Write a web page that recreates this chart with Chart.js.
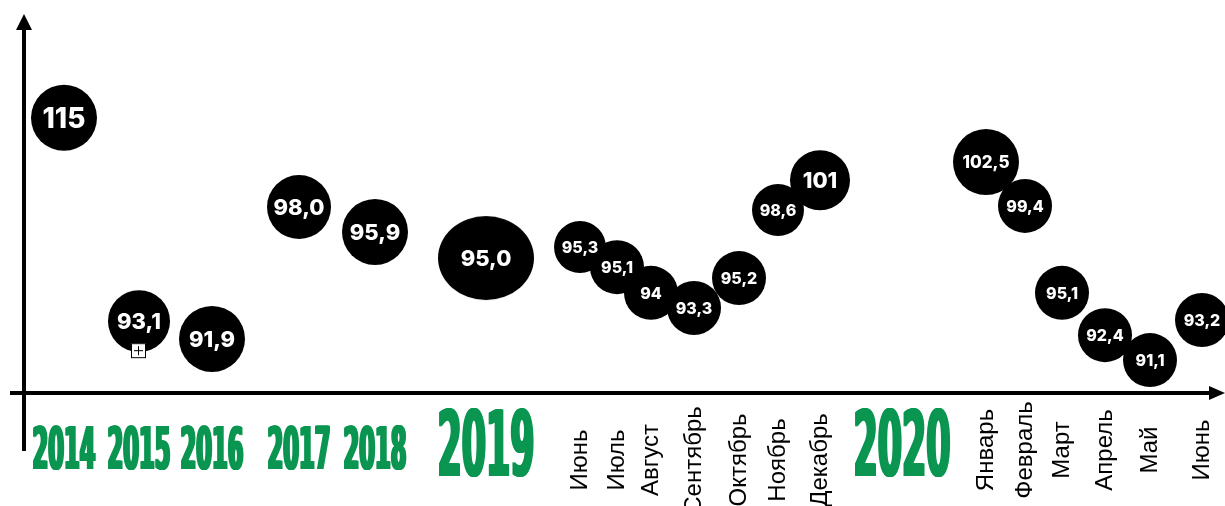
<!DOCTYPE html>
<html>
<head>
<meta charset="utf-8">
<script src="https://cdn.jsdelivr.net/npm/chart.js@4.4.0/dist/chart.umd.min.js"></script>
<style>
  html, body { margin: 0; padding: 0; background: #fff; }
  #wrap { width: 1225px; height: 506px; position: relative; }
</style>
</head>
<body>
<div id="wrap"><canvas id="chart"></canvas></div>
<script>
// --- Data ---
const categories = ['2014', '2015', '2016', '2017', '2018', '2019',
    'Июнь', 'Июль', 'Август', 'Сентябрь', 'Октябрь', 'Ноябрь', 'Декабрь',
    '2020', 'Январь', 'Февраль', 'Март', 'Апрель', 'Май', 'Июнь'];
const values = [115, 93.1, 91.9, 98.0, 95.9, 95.0,
    95.3, 95.1, 94, 93.3, 95.2, 98.6, 101,
    null, 102.5, 99.4, 95.1, 92.4, 91.1, 93.2];
const valueLabels = ['115', '93,1', '91,9', '98,0', '95,9', '95,0',
    '95,3', '95,1', '94', '93,3', '95,2', '98,6', '101',
    null, '102,5', '99,4', '95,1', '92,4', '91,1', '93,2'];
// vertical placement of each bubble as drawn in the infographic (0 = axis, 100 = top)
const levels = [72.8, 19.0, 14.3, 49.2, 42.6, 35.7,
    38.6, 33.3, 26.5, 22.5, 30.4, 48.4, 56.3,
    null, 61.1, 49.5, 26.5, 15.3, 8.7, 19.3];

// --- Layout & styles ---
const GREEN = '#0a9550';
const BIG_YEARS = ['2019', '2020'];
const slotStart = 40;
const slotGaps = [75, 73, 87, 76, 111, 94, 37, 34, 43, 45, 39, 42, 82, 84, 39, 37, 43, 45, 52];
const bubbleRadius = [33, 31, 33, 32, 33, 45, 26, 27, 27, 27, 27, 26, 30, 0, 33, 27, 27, 27, 27, 27];
const labelSizes = [28, 22, 22, 22, 22, 22, 16, 16, 16, 16, 16, 16, 22, 0, 17, 16, 16, 16, 16, 16];
const MARKER_INDEX = 1; // small "+" box under 2015

const xPos = [slotStart];
slotGaps.forEach(g => xPos.push(xPos[xPos.length - 1] + g));

// ellipse used for the big 2019 bubble
const ellipseImg = document.createElement('canvas');
ellipseImg.width = 98;
ellipseImg.height = 86;
(() => {
    const c = ellipseImg.getContext('2d');
    c.fillStyle = '#000';
    c.beginPath();
    c.ellipse(49, 43, 48, 42, 0, 0, Math.PI * 2);
    c.fill();
})();

const points = categories.map((c, i) => ({ x: xPos[i], y: levels[i] }));

// --- Plugins ---
const axesPlugin = {
    id: 'arrowAxes',
    beforeDatasetsDraw(chart) {
        const { ctx, chartArea } = chart;
        const left = chartArea.left, bottom = chartArea.bottom;
        ctx.save();
        ctx.strokeStyle = '#000';
        ctx.fillStyle = '#000';
        ctx.lineWidth = 4;
        // y axis
        ctx.beginPath();
        ctx.moveTo(left, 27);
        ctx.lineTo(left, 451);
        ctx.stroke();
        ctx.beginPath();
        ctx.moveTo(left, 14);
        ctx.lineTo(left - 8, 30);
        ctx.lineTo(left + 8, 30);
        ctx.closePath();
        ctx.fill();
        // x axis
        ctx.beginPath();
        ctx.moveTo(10, bottom);
        ctx.lineTo(1212, bottom);
        ctx.stroke();
        ctx.beginPath();
        ctx.moveTo(1225, bottom);
        ctx.lineTo(1209, bottom - 7);
        ctx.lineTo(1209, bottom + 7);
        ctx.closePath();
        ctx.fill();
        ctx.restore();
    }
};

function drawYear(ctx, text, cx, baseline, big) {
    const size = big ? 90 : 58;
    const target = big ? 97 : 63;
    ctx.save();
    ctx.font = `bold ${size}px "DejaVu Sans"`;
    const sx = target / ctx.measureText(text).width;
    ctx.fillStyle = GREEN;
    ctx.textAlign = 'center';
    ctx.textBaseline = 'alphabetic';
    [-1.2, -0.6, 0, 0.6, 1.2].forEach(dx => {
        ctx.save();
        ctx.translate(cx + dx, baseline);
        ctx.scale(sx, 1);
        ctx.fillText(text, 0, 0);
        ctx.restore();
    });
    ctx.restore();
}

const labelsPlugin = {
    id: 'bubbleLabels',
    afterDatasetsDraw(chart) {
        const { ctx } = chart;
        const meta = chart.getDatasetMeta(0);
        ctx.save();
        meta.data.forEach((el, i) => {
            if (el.skip || !valueLabels[i]) return;
            const size = labelSizes[i];
            ctx.font = `800 ${size}px Inter, "Open Sans", sans-serif`;
            ctx.fillStyle = '#fff';
            ctx.textAlign = 'center';
            ctx.textBaseline = 'alphabetic';
            ctx.fillText(valueLabels[i], el.x, el.y + size * 0.36);
            if (i === MARKER_INDEX) {
                const bx = el.x - 8, by = el.y + 22;
                ctx.fillStyle = '#fff';
                ctx.fillRect(bx, by, 15, 15);
                ctx.strokeStyle = '#000';
                ctx.lineWidth = 1;
                ctx.strokeRect(bx + 0.5, by + 0.5, 14, 14);
                ctx.beginPath();
                ctx.moveTo(bx + 7.5, by + 3);
                ctx.lineTo(bx + 7.5, by + 12);
                ctx.moveTo(bx + 3, by + 7.5);
                ctx.lineTo(bx + 12, by + 7.5);
                ctx.stroke();
            }
        });
        ctx.restore();
    },
    afterDraw(chart) {
        const { ctx } = chart;
        const xs = chart.scales.x;
        const split = categories.indexOf('2020');
        categories.forEach((cat, i) => {
            const x = xs.getPixelForValue(xPos[i]);
            if (/^\d{4}$/.test(cat)) {
                const big = BIG_YEARS.includes(cat);
                drawYear(ctx, cat, x, big ? 476 : 469, big);
            } else {
                ctx.save();
                ctx.translate(x, i < split ? 460 : 450);
                ctx.rotate(-Math.PI / 2);
                ctx.font = '24px "Liberation Sans", Arial, sans-serif';
                ctx.fillStyle = '#000';
                ctx.textAlign = 'center';
                ctx.textBaseline = 'middle';
                ctx.fillText(cat, 0, 0);
                ctx.restore();
            }
        });
    }
};

// --- Chart ---
new Chart(document.getElementById('chart'), {
    type: 'bubble',
    data: {
        labels: categories,
        datasets: [{
            label: 'Значение',
            data: points,
            backgroundColor: '#000',
            borderWidth: 0,
            clip: false,
            radius: c => bubbleRadius[c.dataIndex],
            pointStyle: c => BIG_YEARS.includes(categories[c.dataIndex]) ? ellipseImg : 'circle'
        }]
    },
    options: {
        responsive: true,
        maintainAspectRatio: false,
        animation: false,
        events: [],
        layout: { autoPadding: false, padding: { left: 24, right: 10, top: 15, bottom: 113 } },
        plugins: { legend: { display: false }, tooltip: { enabled: false } },
        scales: {
            x: { type: 'linear', display: false, min: 0, max: 1191 },
            y: { type: 'linear', display: false, min: 0, max: 100 }
        }
    },
    plugins: [axesPlugin, labelsPlugin]
});
</script>
</body>
</html>
